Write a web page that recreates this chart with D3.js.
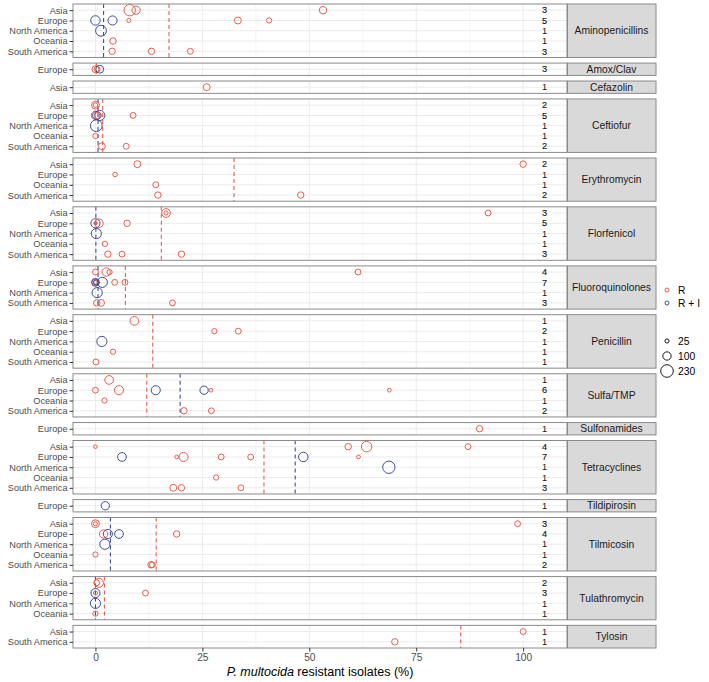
<!DOCTYPE html>
<html>
<head>
<meta charset="utf-8">
<script src="https://cdn.jsdelivr.net/npm/d3@7"></script>
<style>
  html, body { margin: 0; padding: 0; background: #fff; }
  svg { display: block; font-family: "Liberation Sans", Arial, sans-serif; }
</style>
</head>
<body>
<svg id="chart" width="709" height="682"></svg>
<script>
// ---------- DATA ----------
const antibiotics = ["Aminopenicillins","Amox/Clav","Cefazolin","Ceftiofur","Erythromycin","Florfenicol",
  "Fluoroquinolones","Penicillin","Sulfa/TMP","Sulfonamides","Tetracyclines","Tildipirosin","Tilmicosin",
  "Tulathromycin","Tylosin"];

const regionsByAntibiotic = [
  ["Asia","Europe","North America","Oceania","South America"],
  ["Europe"],
  ["Asia"],
  ["Asia","Europe","North America","Oceania","South America"],
  ["Asia","Europe","Oceania","South America"],
  ["Asia","Europe","North America","Oceania","South America"],
  ["Asia","Europe","North America","South America"],
  ["Asia","Europe","North America","Oceania","South America"],
  ["Asia","Europe","Oceania","South America"],
  ["Europe"],
  ["Asia","Europe","North America","Oceania","South America"],
  ["Europe"],
  ["Asia","Europe","North America","Oceania","South America"],
  ["Asia","Europe","North America","Oceania"],
  ["Asia","South America"]
];

const studyCounts = [[3,5,1,1,3],[3],[1],[2,5,1,1,2],[2,1,1,2],[3,5,1,1,3],[4,7,1,3],[1,2,1,1,1],
  [1,6,1,2],[1],[4,7,1,1,3],[1],[3,4,1,1,2],[2,3,1,1],[1,1]];

// dashed reference lines (R, R + I); null = none
const lineR  = [17.2, 0.2, null, 1.7, 32.4, 15.4, 7.0, 13.4, 12.0, null, 39.4, null, 14.2, 2.1, 85.4];
const lineRI = [1.9, null, null, 0.6, null, 0.1, 0.6, null, 19.8, null, 46.7, null, 3.5, 0, null];

// points: [region, % resistant, type, isolates]
const aminopenicillins = [["Asia",8.0,"R",190],["Asia",9.5,"R",100],["Asia",53.2,"R",80],
  ["Europe",0,"RI",130],["Europe",4.0,"RI",120],["Europe",7.8,"R",25],["Europe",33.3,"R",70],["Europe",40.6,"R",40],
  ["North America",1.3,"RI",170],["Oceania",4.1,"R",60],
  ["South America",3.9,"R",60],["South America",13.1,"R",60],["South America",22.2,"R",50]];
const amoxClav = [["Europe",0,"R",70],["Europe",0.4,"R",50],["Europe",1.0,"RI",90]];
const cefazolin = [["Asia",26.0,"R",70]];
const ceftiofur = [["Asia",0,"R",90],["Asia",0,"R",30],
  ["Europe",0,"R",100],["Europe",0.3,"RI",100],["Europe",1.0,"RI",150],["Europe",0.6,"R",60],["Europe",8.8,"R",50],
  ["North America",0.2,"RI",200],["Oceania",0,"R",40],
  ["South America",1.5,"R",70],["South America",7.2,"R",50]];
const erythromycin = [["Asia",9.8,"R",70],["Asia",100,"R",60],["Europe",4.6,"R",30],["Oceania",14.1,"R",50],
  ["South America",14.6,"R",60],["South America",48.0,"R",60]];
const florfenicol = [["Asia",16.5,"R",110],["Asia",16.5,"R",25],["Asia",91.8,"R",50],
  ["Europe",0,"RI",120],["Europe",0,"R",15],["Europe",0.8,"R",110],["Europe",0.1,"R",10],["Europe",7.4,"R",60],
  ["North America",0.2,"RI",150],["Oceania",2.2,"R",40],
  ["South America",2.9,"R",60],["South America",6.2,"R",50],["South America",20.1,"R",60]];
const fluoroquinolones = [["Asia",0,"R",50],["Asia",2.5,"R",100],["Asia",3.3,"R",40],["Asia",61.4,"R",50],
  ["Europe",0,"R",60],["Europe",0,"R",25],["Europe",0.2,"RI",40],["Europe",0,"RI",90],["Europe",1.6,"RI",150],
  ["Europe",4.5,"R",50],["Europe",6.9,"R",50],
  ["North America",0.4,"RI",150],
  ["South America",0.3,"R",60],["South America",1.3,"R",70],["South America",18.0,"R",50]];
const penicillin = [["Asia",9.1,"R",110],["Europe",27.8,"R",40],["Europe",33.4,"R",50],
  ["North America",1.5,"RI",150],["Oceania",4.1,"R",40],["South America",0.1,"R",50]];
const sulfaTmp = [["Asia",3.2,"R",110],
  ["Europe",0,"R",50],["Europe",5.5,"R",120],["Europe",14.1,"RI",120],["Europe",25.4,"RI",100],
  ["Europe",27.0,"R",20],["Europe",68.7,"R",20],
  ["Oceania",2.1,"R",40],["South America",20.7,"R",60],["South America",27.1,"R",50]];
const sulfonamides = [["Europe",89.8,"R",60]];
const tetracyclines = [["Asia",0,"R",20],["Asia",59.1,"R",60],["Asia",63.4,"R",160],["Asia",87.1,"R",50],
  ["Europe",6.2,"RI",110],["Europe",19.0,"R",20],["Europe",20.6,"R",120],["Europe",29.4,"R",50],
  ["Europe",36.3,"R",50],["Europe",48.6,"RI",130],["Europe",61.5,"R",20],
  ["North America",68.6,"RI",220],["Oceania",28.2,"R",40],
  ["South America",18.2,"R",70],["South America",20.1,"R",60],["South America",34.0,"R",50]];
const tildipirosin = [["Europe",2.3,"RI",100]];
const tilmicosin = [["Asia",0,"R",90],["Asia",0,"R",25],["Asia",98.7,"R",50],
  ["Europe",1.9,"R",100],["Europe",2.9,"RI",120],["Europe",5.5,"RI",110],["Europe",19.0,"R",60],
  ["North America",2.2,"RI",150],["Oceania",0,"R",40],
  ["South America",13.0,"R",60],["South America",13.3,"R",50]];
const tulathromycin = [["Asia",0.3,"R",50],["Asia",0.8,"R",120],
  ["Europe",0,"RI",120],["Europe",0,"R",25],["Europe",11.7,"R",50],
  ["North America",0,"RI",150],["Oceania",0,"R",40]];
const tylosin = [["Asia",100,"R",50],["South America",70,"R",60]];

const pointsByAntibiotic = [aminopenicillins, amoxClav, cefazolin, ceftiofur, erythromycin, florfenicol,
  fluoroquinolones, penicillin, sulfaTmp, sulfonamides, tetracyclines, tildipirosin, tilmicosin,
  tulathromycin, tylosin];

const xTicks = [0, 25, 50, 75, 100];
const xMinorTicks = [12.5, 37.5, 62.5, 87.5];
const countX = 105;
const sizeLegendValues = [25, 100, 230];
const typeLabels = {R: "R", RI: "R + I"};

// ---------- LAYOUT ----------
const svg = d3.select("#chart");
const panelLeft = 73, panelRight = 567, stripRight = 656;
const plotTop = 4, plotBottom = 648, gap = 5.6;
const colors = {R: "#E4604E", RI: "#3E4E98"};
const gridCol = "#EBEBEB", borderCol = "#8a8a8a", axisText = "#4D4D4D";

const x = d3.scaleLinear().domain([-5.25, 110.25]).range([panelLeft, panelRight]);
const r = d3.scaleSqrt().domain([0, 230]).range([0, 6.3]);

const totalUnits = d3.sum(regionsByAntibiotic, d => d.length + 0.2);
const unit = (plotBottom - plotTop - gap * (antibiotics.length - 1)) / totalUnits;

let yCursor = plotTop;
antibiotics.forEach((ab, i) => {
  const regs = regionsByAntibiotic[i];
  const h = (regs.length + 0.2) * unit;
  const y0 = yCursor, y1 = yCursor + h;
  yCursor = y1 + gap;
  const y = d3.scalePoint().domain(regs).range([y0, y1]).padding(0.6);
  const g = svg.append("g");

  // grid
  g.selectAll(".minor").data(xMinorTicks).join("line")
    .attr("x1", d => x(d)).attr("x2", d => x(d)).attr("y1", y0).attr("y2", y1)
    .attr("stroke", gridCol).attr("stroke-width", 0.5);
  g.selectAll(".major").data(xTicks).join("line")
    .attr("x1", d => x(d)).attr("x2", d => x(d)).attr("y1", y0).attr("y2", y1)
    .attr("stroke", gridCol).attr("stroke-width", 1);
  g.selectAll(".hgrid").data(regs).join("line")
    .attr("x1", panelLeft).attr("x2", panelRight).attr("y1", d => y(d)).attr("y2", d => y(d))
    .attr("stroke", gridCol).attr("stroke-width", 1);

  // dashed lines
  [[lineR[i], "R"], [lineRI[i], "RI"]].forEach(([v, t]) => {
    if (v === null) return;
    g.append("line").attr("x1", x(v)).attr("x2", x(v)).attr("y1", y0).attr("y2", y1)
      .attr("stroke", colors[t]).attr("stroke-width", 1.1).attr("stroke-dasharray", "4,3");
  });

  // points
  g.selectAll("circle.pt").data(pointsByAntibiotic[i]).join("circle")
    .attr("cx", d => x(d[1])).attr("cy", d => y(d[0])).attr("r", d => r(d[3]))
    .attr("fill", "none").attr("stroke", d => colors[d[2]]).attr("stroke-width", 1);

  // counts
  g.selectAll("text.cnt").data(regs).join("text")
    .attr("x", x(countX)).attr("y", d => y(d)).attr("dy", "0.35em")
    .attr("text-anchor", "middle").attr("font-size", 9.2).attr("fill", "#111")
    .attr("stroke", (d, j) => studyCounts[i][j] > 1 ? "#111" : "none").attr("stroke-width", 0.12)
    .text((d, j) => studyCounts[i][j]);

  // border
  g.append("rect").attr("x", panelLeft).attr("y", y0).attr("width", panelRight - panelLeft).attr("height", h)
    .attr("fill", "none").attr("stroke", borderCol).attr("stroke-width", 1);

  // y axis
  const ya = g.append("g").attr("transform", `translate(${panelLeft},0)`)
    .call(d3.axisLeft(y).tickSize(3.5).tickPadding(2));
  ya.select(".domain").remove();
  ya.selectAll("line").attr("stroke", "#333");
  ya.selectAll("text").attr("font-size", 9.2).attr("fill", axisText)
    .attr("font-family", "Liberation Sans, Arial, sans-serif");

  // strip
  g.append("rect").attr("x", panelRight + 0.5).attr("y", y0).attr("width", stripRight - panelRight - 0.5)
    .attr("height", h).attr("fill", "#D9D9D9").attr("stroke", borderCol).attr("stroke-width", 1);
  g.append("text").attr("x", (panelRight + stripRight) / 2).attr("y", (y0 + y1) / 2).attr("dy", "0.35em")
    .attr("text-anchor", "middle").attr("font-size", 10.3).attr("fill", "#1A1A1A").text(ab);
});

// x axis
const xa = svg.append("g").attr("transform", `translate(0,${plotBottom})`)
  .call(d3.axisBottom(x).tickValues(xTicks).tickSize(3.5).tickPadding(2));
xa.select(".domain").remove();
xa.selectAll("line").attr("stroke", "#333");
xa.selectAll("text").attr("font-size", 10.2).attr("fill", axisText)
  .attr("font-family", "Liberation Sans, Arial, sans-serif");

const title = svg.append("text").attr("x", (panelLeft + panelRight) / 2).attr("y", 676)
  .attr("text-anchor", "middle").attr("font-size", 12.5).attr("fill", "#000");
title.append("tspan").attr("font-style", "italic").text("P. multocida");
title.append("tspan").text(" resistant isolates (%)");

// legends
const lgX = 667, lgTextX = 678;
const colLeg = svg.append("g");
Object.keys(typeLabels).forEach((k, j) => {
  const yy = 290 + j * 13;
  colLeg.append("circle").attr("cx", lgX).attr("cy", yy).attr("r", 2).attr("fill", "none")
    .attr("stroke", colors[k]).attr("stroke-width", 1);
  colLeg.append("text").attr("x", lgTextX).attr("y", yy).attr("dy", "0.35em")
    .attr("font-size", 10.3).attr("fill", "#000").text(typeLabels[k]);
});
const sizeY = [341, 356, 371];
sizeLegendValues.forEach((v, j) => {
  svg.append("circle").attr("cx", lgX).attr("cy", sizeY[j]).attr("r", r(v)).attr("fill", "none")
    .attr("stroke", "#000").attr("stroke-width", 0.9);
  svg.append("text").attr("x", lgTextX).attr("y", sizeY[j]).attr("dy", "0.35em")
    .attr("font-size", 10.3).attr("fill", "#000").text(v);
});
</script>
</body>
</html>
